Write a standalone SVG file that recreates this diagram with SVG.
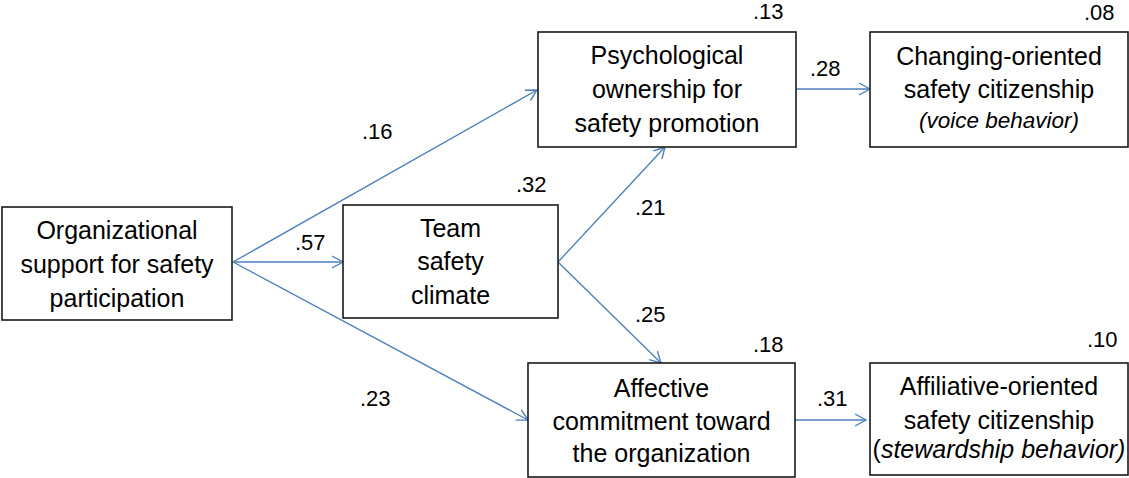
<svg xmlns="http://www.w3.org/2000/svg" width="1129" height="478" viewBox="0 0 1129 478">
<style>
.box{fill:#fff;stroke:#1a1a1a;stroke-width:1.6}
.t{font-family:"Liberation Sans",Arial,sans-serif;font-size:25px;fill:#000;text-anchor:middle}
.it{font-style:italic;font-size:22.5px}
.n{font-family:"Liberation Sans",Arial,sans-serif;font-size:22px;fill:#000}
.c{fill:none;stroke:#4f81bd;stroke-width:1.4}
</style>
<defs>
<marker id="ah" markerUnits="userSpaceOnUse" markerWidth="14" markerHeight="14" refX="11" refY="6" orient="auto" viewBox="0 0 14 12">
<path d="M0,0 L11,6 L0,12" fill="none" stroke="#4f81bd" stroke-width="1.4"/>
</marker>
</defs>
<rect width="1129" height="478" fill="#fff"/>
<g id="connectors">
<line class="c" x1="233" y1="262" x2="537" y2="90" marker-end="url(#ah)"/>
<line class="c" x1="233" y1="262" x2="343" y2="262" marker-end="url(#ah)"/>
<line class="c" x1="233" y1="262" x2="528" y2="420" marker-end="url(#ah)"/>
<line class="c" x1="558" y1="262" x2="665" y2="147" marker-end="url(#ah)"/>
<line class="c" x1="558" y1="262" x2="661" y2="363" marker-end="url(#ah)"/>
<line class="c" x1="796" y1="89" x2="870" y2="89" marker-end="url(#ah)"/>
<line class="c" x1="795" y1="420" x2="866" y2="420" marker-end="url(#ah)"/>
</g>
<g id="labels">
<text class="n" x="362" y="139">.16</text>
<text class="n" x="295" y="250">.57</text>
<text class="n" x="360" y="406">.23</text>
<text class="n" x="635" y="215">.21</text>
<text class="n" x="635" y="322">.25</text>
<text class="n" x="810" y="76">.28</text>
<text class="n" x="817" y="406">.31</text>
</g>
<g id="org">
<rect class="box" x="2" y="207" width="230" height="113"/>
<text class="t" x="117" y="239">Organizational</text>
<text class="t" x="117" y="273">support for safety</text>
<text class="t" x="117" y="307">participation</text>
</g>
<g id="team">
<rect class="box" x="343" y="205" width="215" height="113"/>
<text class="t" x="450.5" y="237">Team</text>
<text class="t" x="450.5" y="270">safety</text>
<text class="t" x="450.5" y="304">climate</text>
<text class="n" x="516" y="192">.32</text>
</g>
<g id="psych">
<rect class="box" x="538" y="32" width="258" height="115"/>
<text class="t" x="667" y="64">Psychological</text>
<text class="t" x="667" y="98">ownership for</text>
<text class="t" x="667" y="132">safety promotion</text>
<text class="n" x="753" y="19">.13</text>
</g>
<g id="changing">
<rect class="box" x="870" y="32" width="258" height="115"/>
<text class="t" x="999" y="65">Changing-oriented</text>
<text class="t" x="999" y="98">safety citizenship</text>
<text class="t it" x="999" y="128">(voice behavior)</text>
<text class="n" x="1084" y="20">.08</text>
</g>
<g id="affective">
<rect class="box" x="528" y="363" width="267" height="114"/>
<text class="t" x="661.5" y="397">Affective</text>
<text class="t" x="661.5" y="430">commitment toward</text>
<text class="t" x="661.5" y="462">the organization</text>
<text class="n" x="753" y="352">.18</text>
</g>
<g id="affiliative">
<rect class="box" x="870" y="363" width="258" height="112"/>
<text class="t" x="999" y="395">Affiliative-oriented</text>
<text class="t" x="999" y="429">safety citizenship</text>
<text class="t" x="999" y="458" font-size="22.5px">(<tspan font-style="italic">stewardship behavior)</tspan></text>
<text class="n" x="1087" y="347">.10</text>
</g>
</svg>
